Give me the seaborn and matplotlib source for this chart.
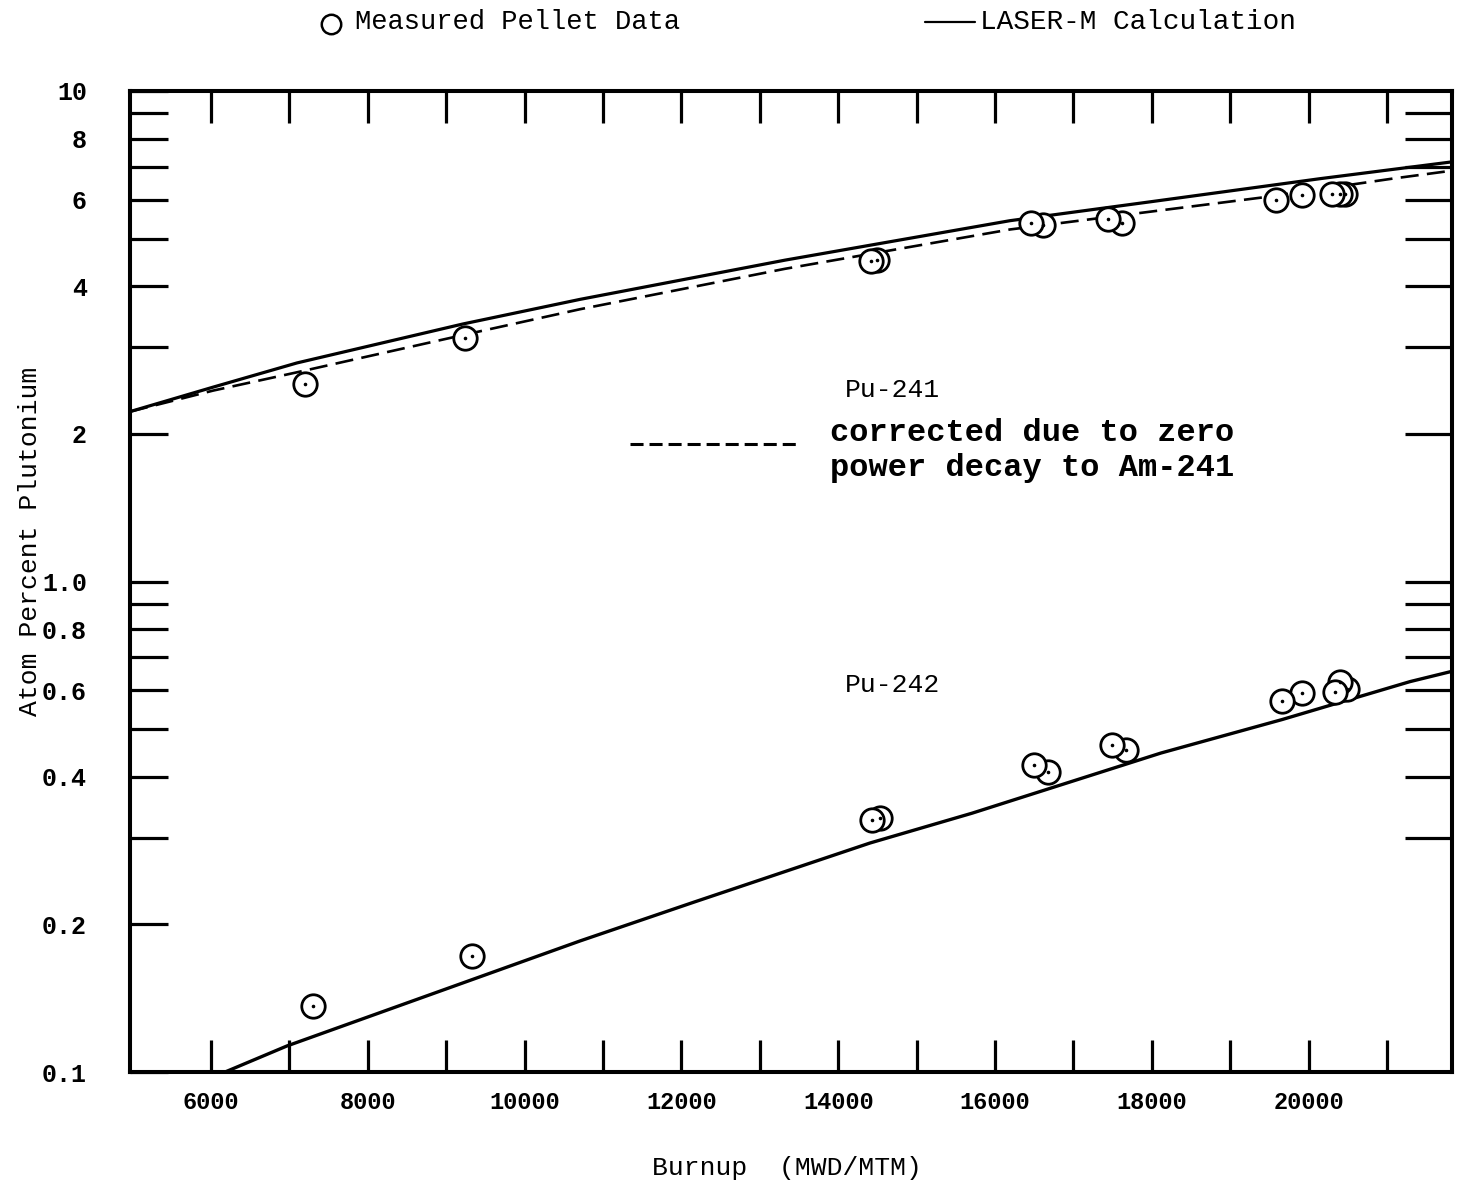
import matplotlib
matplotlib.use("Agg")
import matplotlib.pyplot as plt
from matplotlib.lines import Line2D
from matplotlib.ticker import FixedLocator, FixedFormatter, NullLocator
import pandas as pd
import seaborn as sns

# Measured pellet data (burnup in MWD/MTM, atom percent plutonium)
pu241_burnup = [7199, 9240, 14418, 14495, 16459, 16612, 17441, 17620, 19584, 19916, 20298, 20401, 20464]
pu241_meas = [2.53, 3.14, 4.50, 4.52, 5.39, 5.34, 5.49, 5.39, 5.99, 6.13, 6.16, 6.16, 6.16]
pu242_burnup = [7301, 9329, 14431, 14533, 16497, 16676, 17492, 17671, 19661, 19916, 20337, 20401, 20490]
pu242_meas = [0.136, 0.172, 0.327, 0.329, 0.422, 0.408, 0.464, 0.453, 0.571, 0.593, 0.596, 0.625, 0.604]

# LASER-M calculation
calc241_burnup = [4967, 6026, 7097, 9214, 10707, 13321, 16191, 18000, 20158, 21829]
calc241 = [2.22, 2.49, 2.79, 3.35, 3.76, 4.52, 5.44, 5.95, 6.63, 7.17]
# Pu-241 corrected for zero power decay to Am-241
corr241_burnup = [4967, 6026, 7097, 9214, 10707, 13321, 16191, 19457, 21077, 21829]
corr241 = [2.22, 2.45, 2.67, 3.18, 3.59, 4.34, 5.22, 6.08, 6.63, 6.88]
calc242_burnup = [6115, 6969, 10707, 12161, 14406, 15707, 18117, 19661, 21293, 21829]
calc242 = [0.099, 0.113, 0.185, 0.222, 0.293, 0.337, 0.447, 0.523, 0.625, 0.656]

# Axis ticks
x_ticks = list(range(6000, 22000, 1000))
x_labels = [str(v) if v % 2000 == 0 and v <= 20000 else "" for v in x_ticks]
y_ticks = [0.1, 0.2, 0.3, 0.4, 0.5, 0.6, 0.7, 0.8, 0.9, 1.0, 2, 3, 4, 5, 6, 7, 8, 9, 10]
y_labels = ["0.1", "0.2", "", "0.4", "", "0.6", "", "0.8", "", "1.0",
            "2", "", "4", "", "6", "", "8", "", "10"]
y_ticks_right = [0.3, 0.4, 0.5, 0.6, 0.7, 0.8, 0.9, 1.0, 2, 3, 4, 5, 6, 7, 8, 9]

sns.set_theme(style="white")
plt.rcParams["font.family"] = ["Liberation Mono", "DejaVu Sans Mono"]
plt.rcParams["lines.scale_dashes"] = False

W, H = 1462, 1196
fig = plt.figure(figsize=(W / 100, H / 100), dpi=100)
fig.patch.set_facecolor("white")
ax = fig.add_axes([130 / W, 1 - 1072 / H, 1322 / W, 981 / H])
ax.set_yscale("log")

curves = pd.DataFrame({"burnup": calc241_burnup, "value": calc241})
sns.lineplot(data=curves, x="burnup", y="value", ax=ax, color="black",
             lw=2.3, estimator=None, zorder=2)
corr = pd.DataFrame({"burnup": corr241_burnup, "value": corr241})
sns.lineplot(data=corr, x="burnup", y="value", ax=ax, color="black",
             lw=1.9, estimator=None, zorder=2)
ax.lines[-1].set_dashes([13, 6])
curves242 = pd.DataFrame({"burnup": calc242_burnup, "value": calc242})
sns.lineplot(data=curves242, x="burnup", y="value", ax=ax, color="black",
             lw=2.4, estimator=None, zorder=2)

# Measured points: leftmost circle of each cluster drawn on top
for bx, vy in ((pu241_burnup, pu241_meas), (pu242_burnup, pu242_meas)):
    pts = pd.DataFrame({"burnup": bx[::-1], "value": vy[::-1]})
    sns.scatterplot(data=pts, x="burnup", y="value", ax=ax, marker="o", s=285,
                    facecolor="white", edgecolor="black", linewidth=2.0, zorder=4)
    ax.scatter(bx, vy, s=2.5, color="black", zorder=5)

ax.set_xlim(4967, 21829)
ax.set_ylim(0.1, 10)
ax.set_xlabel("")
ax.set_ylabel("")

ax.xaxis.set_major_locator(FixedLocator(x_ticks))
ax.xaxis.set_major_formatter(FixedFormatter(x_labels))
ax.xaxis.set_minor_locator(NullLocator())
ax.yaxis.set_major_locator(FixedLocator(y_ticks))
ax.yaxis.set_major_formatter(FixedFormatter(y_labels))
ax.yaxis.set_minor_locator(NullLocator())

ax.tick_params(axis="x", which="major", direction="in", length=23, width=2.3,
               top=True, bottom=True, labeltop=False, pad=14, labelsize=17,
               color="black", labelcolor="black")
ax.tick_params(axis="y", which="major", direction="in", length=27, width=2.3,
               left=True, right=False, pad=31, labelsize=18,
               color="black", labelcolor="black")
for lab in ax.get_xticklabels() + ax.get_yticklabels():
    lab.set_fontweight("bold")

ax_r = ax.twinx()
ax_r.set_yscale("log")
ax_r.set_ylim(ax.get_ylim())
ax_r.yaxis.set_major_locator(FixedLocator(y_ticks_right))
ax_r.yaxis.set_minor_locator(NullLocator())
ax_r.tick_params(axis="y", which="major", direction="in", length=34, width=2.3,
                 right=True, labelright=False, color="black")

for a in (ax, ax_r):
    for sp in a.spines.values():
        sp.set_linewidth(2.9)
        sp.set_color("black")

def fx(px):
    return px / W

def fy(py):
    return 1 - py / H

# Key along the top
fig.add_artist(Line2D([fx(331)], [fy(24)], marker="o", markersize=14,
                      markerfacecolor="white", markeredgecolor="black",
                      markeredgewidth=1.8, transform=fig.transFigure))
fig.text(fx(355), fy(22), "Measured Pellet Data", fontsize=19.5,
         ha="left", va="center", color="black")
fig.add_artist(Line2D([fx(925), fx(975)], [fy(22), fy(22)], color="black",
                      lw=1.6, transform=fig.transFigure))
fig.text(fx(980), fy(22), "LASER-M Calculation", fontsize=20,
         ha="left", va="center", color="black")

# Curve annotations
fig.text(fx(845), fy(390), "Pu-241", fontsize=19, ha="left", va="center", color="black")
fig.text(fx(845), fy(685), "Pu-242", fontsize=19, ha="left", va="center", color="black")
fig.add_artist(Line2D([fx(630), fx(800)], [fy(444), fy(444)], color="black",
                      lw=2.2, dashes=[9.4, 4.3], transform=fig.transFigure))
fig.text(fx(830), fy(433), "corrected due to zero", fontsize=23, fontweight="bold",
         ha="left", va="center", color="black")
fig.text(fx(830), fy(468), "power decay to Am-241", fontsize=23, fontweight="bold",
         ha="left", va="center", color="black")

# Axis titles
fig.text(fx(30), fy(541), "Atom Percent Plutonium", fontsize=19, rotation=90,
         ha="center", va="center", color="black")
fig.text(fx(787), fy(1168), "Burnup  (MWD/MTM)", fontsize=19,
         ha="center", va="center", color="black")

fig.savefig("out.png", dpi=100, facecolor="white")
